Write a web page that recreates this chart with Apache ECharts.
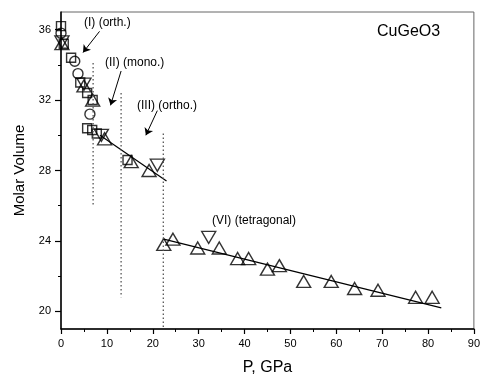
<!DOCTYPE html>
<html>
<head>
<meta charset="utf-8">
<script src="https://cdn.jsdelivr.net/npm/echarts@6/dist/echarts.min.js"></script>
<style>
  html, body { margin: 0; padding: 0; background: #fff; }
  #chart { width: 483px; height: 381px; }
</style>
</head>
<body>
<div id="chart"></div>
<script>
// pressure (GPa) and molar volume per marker type
const squareP = [0.0, 0.6, 2.2, 4.2, 5.7, 6.9, 5.7, 6.8, 7.8, 14.5]
const squareV = [36.2, 35.2, 34.4, 33.0, 32.4, 32.0, 30.4, 30.3, 30.1, 28.6]
const circleP = [0.0, 3.0, 3.7, 6.3]
const circleV = [35.8, 34.2, 33.5, 31.2]
const downP = [0.2, 5.0, 8.8, 21.0, 32.2]
const downV = [35.3, 32.9, 30.0, 28.3, 24.2]
const upP = [0.2, 5.0, 6.9, 9.5, 15.3, 19.2, 22.4, 24.4, 29.8, 34.5, 38.5, 40.9, 45.0, 47.6, 52.9, 58.9, 64.0, 69.1, 77.3, 80.9]
const upV = [35.2, 32.8, 32.0, 29.8, 28.5, 28.0, 23.8, 24.1, 23.6, 23.6, 23.0, 23.0, 22.4, 22.6, 21.7, 21.7, 21.3, 21.2, 20.8, 20.8]

// linear fits
const fit1P = [8.5, 23.0]
const fit1V = [30.0, 27.4]
const fit2P = [22.4, 82.9]
const fit2V = [24.1, 20.2]

// dotted phase boundaries
const dotP = [7.0, 13.1, 22.3]
const dotTop = [34.1, 32.4, 30.1]
const dotBottom = [26.0, 20.8, 19.0]

// annotation arrows (data units)
const arrowFrom = [[8.4, 35.9], [13.1, 33.65], [21.0, 31.4]]
const arrowTo = [[4.8, 34.7], [10.8, 31.7], [18.5, 30.0]]

const yTicks = [20, 24, 28, 32, 36]
const yMinorTicks = [22, 26, 30, 34]

const font = "Liberation Sans"
const zip = (a, b) => a.map((v, i) => [v, b[i]])

const chart = echarts.init(document.getElementById("chart"), null, { renderer: "canvas" })

const markerStyle = {
  color: "rgba(0,0,0,0)",
  borderColor: "#000",
  borderWidth: 1.4,
}

const series = [
  {
    name: "square",
    type: "scatter",
    symbol: "rect",
    symbolSize: 9,
    data: zip(squareP, squareV),
    itemStyle: markerStyle,
  },
  {
    name: "circle",
    type: "scatter",
    symbol: "circle",
    symbolSize: 10,
    data: zip(circleP, circleV),
    itemStyle: markerStyle,
  },
  {
    name: "down",
    type: "scatter",
    symbol: "triangle",
    symbolRotate: 180,
    symbolSize: [14, 12],
    data: zip(downP, downV),
    itemStyle: markerStyle,
  },
  {
    name: "up",
    type: "scatter",
    symbol: "triangle",
    symbolSize: [14, 12],
    data: zip(upP, upV),
    itemStyle: markerStyle,
  },
  {
    name: "fit1",
    type: "line",
    symbol: "none",
    data: zip(fit1P, fit1V),
    lineStyle: { color: "#000", width: 1.2 },
    markLine: {
      silent: true,
      symbol: ["none", "arrow"],
      symbolSize: 7,
      label: { show: false },
      lineStyle: { color: "#000", width: 1, type: "solid" },
      data: arrowFrom.map((f, i) => [{ coord: f }, { coord: arrowTo[i] }]),
    },
  },
  {
    name: "fit2",
    type: "line",
    symbol: "none",
    data: zip(fit2P, fit2V),
    lineStyle: { color: "#000", width: 1.2 },
  },
]

dotP.forEach((p, i) => {
  series.push({
    name: "dot" + i,
    type: "line",
    symbol: "none",
    data: [[p, dotTop[i]], [p, dotBottom[i]]],
    lineStyle: { color: "#555", width: 1.3, type: [1.5, 2.5] },
  })
})

const labelText = (text, left, top, size) => ({
  type: "text",
  left: left,
  top: top,
  style: { text: text, font: size + "px " + font, fill: "#000" },
})

const option = {
  animation: false,
  backgroundColor: "#fff",
  grid: {
    left: 61,
    right: 5,
    top: 12,
    bottom: 48,
    show: true,
    borderColor: "#666",
    borderWidth: 1,
  },
  xAxis: {
    type: "value",
    min: 0,
    max: 90,
    interval: 10,
    name: "P, GPa",
    nameLocation: "middle",
    nameGap: 31,
    nameTextStyle: { fontFamily: font, fontSize: 16, color: "#000" },
    axisLine: { lineStyle: { color: "#000", width: 1.5 } },
    axisTick: { length: 5, lineStyle: { color: "#000", width: 1.2 } },
    minorTick: { show: true, splitNumber: 2, length: 3, lineStyle: { color: "#000", width: 1 } },
    axisLabel: { fontFamily: font, fontSize: 11, color: "#000", margin: 9 },
    splitLine: { show: false },
  },
  yAxis: [
    {
      type: "value",
      min: 19,
      max: 37,
      name: "Molar Volume",
      nameLocation: "middle",
      nameGap: 34,
      nameTextStyle: { fontFamily: font, fontSize: 15, color: "#000" },
      axisLine: { lineStyle: { color: "#000", width: 1.5 } },
      axisTick: { length: 6, customValues: yTicks, lineStyle: { color: "#000", width: 1.2 } },
      axisLabel: { customValues: yTicks, fontFamily: font, fontSize: 11, color: "#000", margin: 10 },
      splitLine: { show: false },
    },
    {
      type: "value",
      min: 19,
      max: 37,
      position: "left",
      axisLine: { show: false },
      axisTick: { length: 3, customValues: yMinorTicks, lineStyle: { color: "#000", width: 1 } },
      axisLabel: { show: false },
      splitLine: { show: false },
    },
  ],
  graphic: [
    labelText("(I) (orth.)", 84, 17, 12),
    labelText("(II) (mono.)", 105, 57, 12),
    labelText("(III) (ortho.)", 137, 100, 12),
    labelText("(VI) (tetragonal)", 212, 215, 12),
    labelText("CuGeO3", 377, 24, 16),
  ],
  series: series,
}

chart.setOption(option)
</script>
</body>
</html>
